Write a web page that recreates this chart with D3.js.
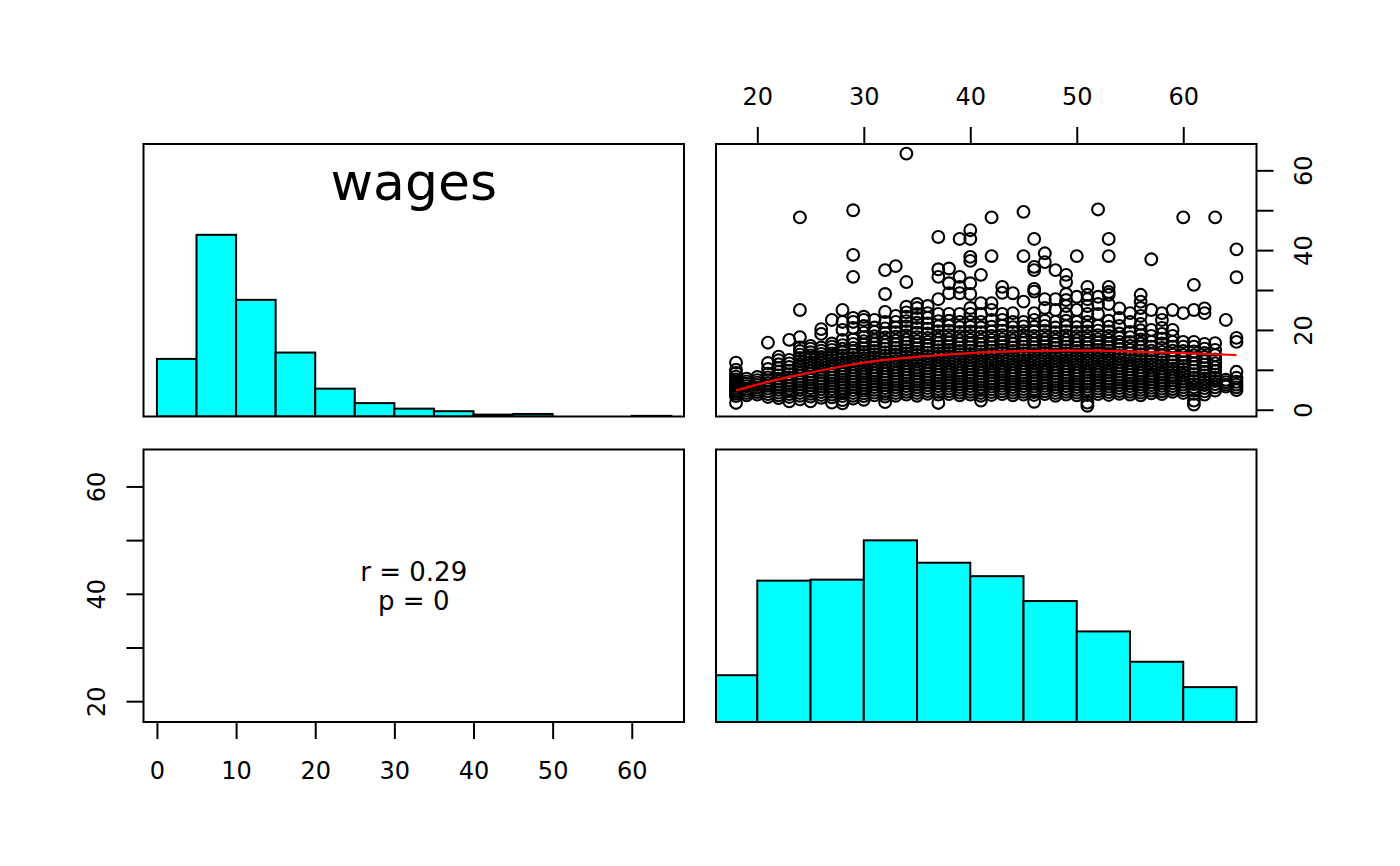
<!DOCTYPE html>
<html><head><meta charset="utf-8">
<script src="https://cdn.jsdelivr.net/npm/d3@7"></script>
<style>
body{margin:0;background:#fff}
svg{display:block}
text{font-family:"DejaVu Sans",sans-serif;fill:#000}
</style></head>
<body><svg id="chart" width="1400" height="866"></svg>
<script>
// ---------- data ----------
const varNames = ["wages", "age"];
const corrText = ["r = 0.29", "p = 0"];

const wageBinEdges = [0,5,10,15,20,25,30,35,40,45,50,55,60,65];
const wageCounts   = [271,855,549,301,131,63,37,25,9,12,0,0,3];

const ageBinEdges = [15,20,25,30,35,40,45,50,55,60,65];
const ageCounts   = [94,284,286,365,320,293,243,182,121,70];

const wageTicks = [0,10,20,30,40,50,60];
const ageTicks  = [20,30,40,50,60];
const ageLabelTicks = [20,40,60];
const wageLabelTicks = [0,20,40,60];

const loessAge  = [18,20,22,25,28,31,34,37,40,44,48,52,56,60,65];
const loessWage = [4.8,6.3,7.6,9.3,10.9,12.2,13.0,13.7,14.2,14.6,14.8,14.8,14.5,14.2,13.7];

const scatterAges = [18,19,20,21,22,23,24,25,26,27,28,29,30,31,32,33,34,35,36,37,38,39,40,41,42,43,44,45,46,47,48,49,50,51,52,53,54,55,56,57,58,59,60,61,62,63,64,65];
const scatterWages = [
 [1.7,3.4,4.0,4.5,5.0,5.5,6.0,6.5,7.0,7.6,8.3,9.2,10.0,11.8],
 [3.6,4.2,4.8,5.3,5.9,6.5,7.1,7.8],
 [3.8,4.4,5.0,5.6,6.2,6.8,7.4,8.2],
 [3.2,3.9,4.6,5.3,6.0,6.7,7.4,8.1,9.0,10.2,11.7,16.8],
 [2.9,3.6,4.3,5.0,5.7,6.4,7.1,7.8,8.6,9.5,10.4,11.4,12.4,13.3],
 [2.1,3.2,3.9,4.6,5.3,6.0,6.7,7.4,8.1,8.9,9.8,10.7,11.6,12.5,17.5],
 [2.6,3.5,4.2,4.9,5.6,6.3,7.0,7.7,8.4,9.1,9.8,10.6,11.4,12.2,13.0,13.8,14.7,15.6,18.2,25.0,48.2],
 [2.1,3.3,4.0,4.7,5.4,6.1,6.8,7.5,8.2,8.9,9.6,10.4,11.2,12.0,12.8,13.6,14.4,15.3,16.0],
 [3.0,3.7,4.4,5.1,5.8,6.5,7.2,7.9,8.6,9.3,10.0,10.8,11.6,12.4,13.2,14.0,14.8,15.6,19.0,20.2],
 [1.8,3.1,3.8,4.5,5.2,5.9,6.6,7.3,8.0,8.7,9.4,10.1,10.9,11.7,12.5,13.3,14.1,15.0,15.8,16.6,22.5],
 [1.6,2.4,3.4,4.1,4.8,5.5,6.2,6.9,7.6,8.3,9.0,9.7,10.4,11.2,12.0,12.8,13.6,14.4,15.3,16.2,17.5,20.0,22.0,25.0],
 [2.8,3.5,4.2,4.9,5.6,6.3,7.0,7.7,8.4,9.1,9.8,10.6,11.4,12.2,13.0,13.8,14.6,15.5,16.5,17.6,20.5,22.0,23.0,33.3,38.8,50.0],
 [2.5,3.4,4.1,4.8,5.5,6.2,6.9,7.6,8.3,9.0,9.7,10.5,11.3,12.1,12.9,13.7,14.5,15.4,16.3,17.2,18.2,19.3,21.0,22.5,23.3],
 [3.6,4.3,5.0,5.7,6.4,7.1,7.8,8.5,9.2,9.9,10.7,11.5,12.3,13.1,13.9,14.7,15.6,16.5,17.4,18.4,19.5,20.6,22.5],
 [1.9,3.3,4.0,4.7,5.4,6.1,6.8,7.5,8.2,8.9,9.6,10.4,11.2,12.0,12.8,13.6,14.4,15.3,16.2,17.1,18.1,19.2,20.4,22.0,24.5,29.0,35.0],
 [3.5,4.2,4.9,5.6,6.3,7.0,7.7,8.4,9.1,9.8,10.6,11.4,12.2,13.0,13.8,14.6,15.5,16.4,17.3,18.3,19.4,20.6,22.0,23.5,36.0],
 [3.8,4.5,5.2,5.9,6.6,7.3,8.0,8.7,9.4,10.1,10.9,11.7,12.5,13.3,14.1,14.9,15.8,16.7,17.6,18.6,19.7,20.9,22.2,23.3,24.4,25.8,32.0,64.2],
 [3.5,4.2,4.9,5.6,6.3,7.0,7.7,8.4,9.1,9.8,10.5,11.3,12.1,12.9,13.7,14.5,15.4,16.3,17.2,18.2,19.3,20.5,21.8,23.0,24.0,25.5,26.5],
 [4.0,4.7,5.4,6.1,6.8,7.5,8.2,8.9,9.6,10.3,11.1,11.9,12.7,13.5,14.3,15.2,16.1,17.0,18.0,19.1,20.3,21.6,23.0,24.2,26.0],
 [1.7,3.8,4.5,5.2,5.9,6.6,7.3,8.0,8.7,9.4,10.1,10.9,11.7,12.5,13.3,14.1,14.9,15.8,16.7,17.6,18.6,19.7,20.9,22.2,24.0,27.7,33.3,35.2,43.3],
 [3.9,4.6,5.3,6.0,6.7,7.4,8.1,8.8,9.5,10.2,11.0,11.8,12.6,13.4,14.2,15.0,15.9,16.8,17.7,18.7,19.8,21.0,22.3,24.0,29.2,31.7,35.4],
 [3.6,4.3,5.0,5.7,6.4,7.1,7.8,8.5,9.2,9.9,10.7,11.5,12.3,13.1,13.9,14.7,15.6,16.5,17.4,18.4,19.5,20.7,22.0,24.0,29.2,30.8,33.3,42.8],
 [3.8,4.5,5.2,5.9,6.6,7.3,8.0,8.7,9.4,10.1,10.8,11.6,12.4,13.2,14.0,14.8,15.7,16.6,17.5,18.5,19.6,20.8,22.0,24.0,25.5,29.0,31.7,37.3,38.3,42.8,45.0],
 [2.3,3.5,4.2,4.9,5.6,6.3,7.0,7.7,8.4,9.1,9.8,10.6,11.4,12.2,13.0,13.8,14.6,15.5,16.4,17.3,18.3,19.4,20.6,22.0,24.0,26.7,33.8],
 [3.7,4.4,5.1,5.8,6.5,7.2,7.9,8.6,9.3,10.0,10.8,11.6,12.4,13.2,14.0,14.8,15.7,16.6,17.5,18.5,19.6,20.8,22.5,25.0,26.7,38.5,48.2],
 [3.9,4.6,5.3,6.0,6.7,7.4,8.1,8.8,9.5,10.2,11.0,11.8,12.6,13.4,14.2,15.0,15.9,16.8,17.7,18.7,19.8,21.0,22.5,24.0,29.3,30.8],
 [3.6,4.3,5.0,5.7,6.4,7.1,7.8,8.5,9.2,9.9,10.7,11.5,12.3,13.1,13.9,14.7,15.6,16.5,17.4,18.4,19.5,20.7,22.0,24.2,29.2],
 [3.8,4.5,5.2,5.9,6.6,7.3,8.0,8.7,9.4,10.1,10.9,11.7,12.5,13.3,14.1,14.9,15.8,16.7,17.6,18.6,19.7,20.9,22.0,27.1,38.5,49.6],
 [2.0,3.7,4.4,5.1,5.8,6.5,7.2,7.9,8.6,9.3,10.0,10.8,11.6,12.4,13.2,14.0,14.8,15.7,16.6,17.5,18.5,19.6,20.8,22.5,24.2,29.6,30.3,35.0,35.8,42.8],
 [3.9,4.6,5.3,6.0,6.7,7.4,8.1,8.8,9.5,10.2,11.0,11.8,12.6,13.4,14.2,15.0,15.9,16.8,17.7,18.7,19.8,21.0,22.3,25.5,27.7,37.0,39.2],
 [3.5,4.2,4.9,5.6,6.3,7.0,7.7,8.4,9.1,9.8,10.6,11.4,12.2,13.0,13.8,14.6,15.5,16.4,17.3,18.3,19.4,20.6,22.0,25.0,27.7,35.0],
 [3.8,4.5,5.2,5.9,6.6,7.3,8.0,8.7,9.4,10.1,10.9,11.7,12.5,13.3,14.1,14.9,15.8,16.7,17.6,18.6,19.7,20.9,22.3,24.0,26.0,27.5,29.0,32.0,33.8],
 [3.6,4.3,5.0,5.7,6.4,7.1,7.8,8.5,9.2,9.9,10.7,11.5,12.3,13.1,13.9,14.7,15.6,16.5,17.4,18.4,19.5,20.7,22.0,25.0,28.3,38.5],
 [1.0,1.8,3.7,4.4,5.1,5.8,6.5,7.2,7.9,8.6,9.3,10.0,10.8,11.6,12.4,13.2,14.0,14.8,15.7,16.6,17.5,18.5,19.6,20.8,22.0,24.0,26.0,27.7,28.8,30.8],
 [3.9,4.6,5.3,6.0,6.7,7.4,8.1,8.8,9.5,10.2,11.0,11.8,12.6,13.4,14.2,15.0,15.9,16.8,17.7,18.7,19.8,21.0,24.0,26.5,28.3,50.2],
 [3.7,4.4,5.1,5.8,6.5,7.2,7.9,8.6,9.3,10.0,10.8,11.6,12.4,13.2,14.0,14.8,15.7,16.6,17.5,18.5,19.6,20.8,22.3,26.5,28.8,29.5,30.8,38.5,42.8],
 [4.0,4.7,5.4,6.1,6.8,7.5,8.2,8.9,9.6,10.3,11.1,11.9,12.7,13.5,14.3,15.2,16.1,17.0,18.0,19.1,21.0,23.0,25.4],
 [3.8,4.5,5.2,5.9,6.6,7.3,8.0,8.7,9.4,10.1,10.9,11.7,12.5,13.3,14.1,15.0,16.0,17.0,18.2,19.5,22.0,24.2],
 [3.6,4.3,5.0,5.7,6.4,7.1,7.8,8.5,9.2,9.9,10.7,11.5,12.3,13.1,13.9,14.8,15.7,16.6,17.6,18.7,19.9,21.5,23.5,25.5,27.1,28.8],
 [4.1,4.8,5.5,6.2,6.9,7.6,8.3,9.0,9.8,10.6,11.4,12.2,13.0,13.9,14.8,15.8,17.0,18.5,20.0,25.0,37.7],
 [3.9,4.6,5.3,6.0,6.7,7.4,8.1,8.8,9.5,10.3,11.1,11.9,12.7,13.6,14.5,15.5,16.6,17.8,19.0,20.5,22.5,24.2],
 [4.5,5.2,5.9,6.6,7.3,8.0,8.7,9.5,10.3,11.1,12.0,12.9,13.8,14.8,15.8,17.0,18.5,20.0,25.0],
 [4.2,4.9,5.6,6.3,7.0,7.8,8.6,9.4,10.2,11.0,11.9,12.8,13.7,14.7,15.8,17.0,24.2,48.2],
 [1.3,2.3,4.0,4.8,5.6,6.4,7.2,8.0,8.9,9.8,10.7,11.6,12.6,13.6,14.6,15.8,17.0,25.0,31.3],
 [3.8,4.6,5.4,6.2,7.0,7.8,8.6,9.5,10.4,11.3,12.2,13.2,14.2,15.3,16.5,24.2,25.4],
 [4.8,5.6,6.4,7.2,8.0,8.8,9.7,10.6,11.6,12.6,13.7,15.0,16.7,48.2],
 [5.8,6.3,6.9,7.5,22.5],
 [4.9,5.6,6.3,7.0,8.0,9.5,17.0,18.0,33.2,40.2]
];

// ---------- layout ----------
const colL = [143.5, 684], colR = [716, 1256.5];
const rowT = [144, 416.5], rowB = [449.5, 722];
const wageDom = [-1.7, 66.6], ageDom = [16.12, 66.88];
const TICK = 17, FS = 24;

const svg = d3.select("#chart");

const wageX = d3.scaleLinear().domain(wageDom).range(colL);
const ageYB = d3.scaleLinear().domain(ageDom).range([rowB[1], rowB[0]]);
const ageX  = d3.scaleLinear().domain(ageDom).range(colR);
const wageY = d3.scaleLinear().domain(wageDom).range([rowT[1], rowT[0]]);
const wageCountY = d3.scaleLinear().domain([0, 1.5*d3.max(wageCounts)]).range([rowT[1], rowT[0]]);
const ageCountY  = d3.scaleLinear().domain([0, 1.5*d3.max(ageCounts)]).range([rowB[1], rowB[0]]);

const defs = svg.append("defs");
function clip(id, xr, yr){
  defs.append("clipPath").attr("id", id).append("rect")
    .attr("x", xr[0]).attr("y", yr[0]).attr("width", xr[1]-xr[0]).attr("height", yr[1]-yr[0]);
  return "url(#"+id+")";
}

// ---------- panel 1: wages histogram ----------
const wageBins = wageCounts.map((c,i) => ({c, x0: wageBinEdges[i], x1: wageBinEdges[i+1]}));
const p1 = svg.append("g").attr("clip-path", clip("c1", colL, rowT));
p1.selectAll("rect").data(wageBins.filter(b => b.c > 0)).join("rect")
  .attr("x", b => wageX(b.x0))
  .attr("width", b => wageX(b.x1) - wageX(b.x0))
  .attr("y", b => wageCountY(b.c))
  .attr("height", b => wageCountY(0) - wageCountY(b.c))
  .attr("fill", "#00FFFF").attr("stroke", "#000").attr("stroke-width", 2);
svg.append("text").attr("x", (colL[0]+colL[1])/2).attr("y", 200)
  .attr("text-anchor", "middle").attr("font-size", 52).text(varNames[0]);

// ---------- panel 2: scatter ----------
const pts = [];
scatterAges.forEach((a, i) => scatterWages[i].forEach(w => pts.push([a, w])));
const p2 = svg.append("g");
p2.selectAll("circle").data(pts).join("circle")
  .attr("cx", d => ageX(d[0])).attr("cy", d => wageY(d[1])).attr("r", 5.9)
  .attr("fill", "none").attr("stroke", "#000").attr("stroke-width", 2.1);
p2.append("path").datum(loessAge.map((a,i)=>[a, loessWage[i]]))
  .attr("d", d3.line().x(d => ageX(d[0])).y(d => wageY(d[1])).curve(d3.curveMonotoneX))
  .attr("fill", "none").attr("stroke", "#FF0000").attr("stroke-width", 2.2);

// ---------- panel 3: correlation text ----------
const cx3 = (colL[0]+colL[1])/2;
svg.append("text").attr("x", cx3).attr("y", 571.5).attr("text-anchor","middle")
  .attr("dominant-baseline","central").attr("font-size", 26).text(corrText[0]);
svg.append("text").attr("x", cx3).attr("y", 600.5).attr("text-anchor","middle")
  .attr("dominant-baseline","central").attr("font-size", 26).text(corrText[1]);

// ---------- panel 4: age histogram ----------
const p4 = svg.append("g").attr("clip-path", clip("c4", colR, rowB));
p4.selectAll("rect").data(ageCounts).join("rect")
  .attr("x", (d,i) => ageX(ageBinEdges[i]))
  .attr("width", (d,i) => ageX(ageBinEdges[i+1]) - ageX(ageBinEdges[i]))
  .attr("y", d => ageCountY(d))
  .attr("height", d => ageCountY(0) - ageCountY(d))
  .attr("fill", "#00FFFF").attr("stroke", "#000").attr("stroke-width", 2);

// ---------- boxes ----------
[[colL,rowT],[colR,rowT],[colL,rowB],[colR,rowB]].forEach(([xr,yr]) => {
  svg.append("rect").attr("x", xr[0]).attr("y", yr[0])
    .attr("width", xr[1]-xr[0]).attr("height", yr[1]-yr[0])
    .attr("fill", "none").attr("stroke", "#000").attr("stroke-width", 2);
});

// ---------- axes ----------
function styleAxis(g){
  g.select(".domain").remove();
  g.selectAll(".tick line").attr("stroke", "#000").attr("stroke-width", 2);
  g.selectAll(".tick text").attr("font-size", FS).attr("font-family", "DejaVu Sans").attr("fill", "#000");
}
// top: age
const gTop = svg.append("g").attr("transform", `translate(0,${rowT[0]})`)
  .call(d3.axisTop(ageX).tickValues(ageTicks).tickSize(TICK).tickFormat(d3.format("d")));
styleAxis(gTop);
gTop.selectAll(".tick text").attr("y", -47).attr("dy", null).attr("dominant-baseline", "central");

// bottom: wages
const gBot = svg.append("g").attr("transform", `translate(0,${rowB[1]})`)
  .call(d3.axisBottom(wageX).tickValues(wageTicks).tickSize(TICK).tickFormat(d3.format("d")));
styleAxis(gBot);
gBot.selectAll(".tick text").attr("y", 49).attr("dy", null).attr("dominant-baseline", "central");

// left: age (bottom-left panel)
const gLeft = svg.append("g").attr("transform", `translate(${colL[0]},0)`)
  .call(d3.axisLeft(ageYB).tickValues(ageTicks).tickSize(TICK)
    .tickFormat(d => ageLabelTicks.includes(d) ? String(d) : ""));
styleAxis(gLeft);
gLeft.selectAll(".tick text").attr("transform", "rotate(-90)").attr("x", 0).attr("y", -46.5)
  .attr("dy", null).attr("text-anchor", "middle").attr("dominant-baseline", "central");

// right: wages (top-right panel)
const gRight = svg.append("g").attr("transform", `translate(${colR[1]},0)`)
  .call(d3.axisRight(wageY).tickValues(wageTicks).tickSize(TICK)
    .tickFormat(d => wageLabelTicks.includes(d) ? String(d) : ""));
styleAxis(gRight);
gRight.selectAll(".tick text").attr("transform", "rotate(-90)").attr("x", 0).attr("y", 47.5)
  .attr("dy", null).attr("text-anchor", "middle").attr("dominant-baseline", "central");
</script>
</body></html>
